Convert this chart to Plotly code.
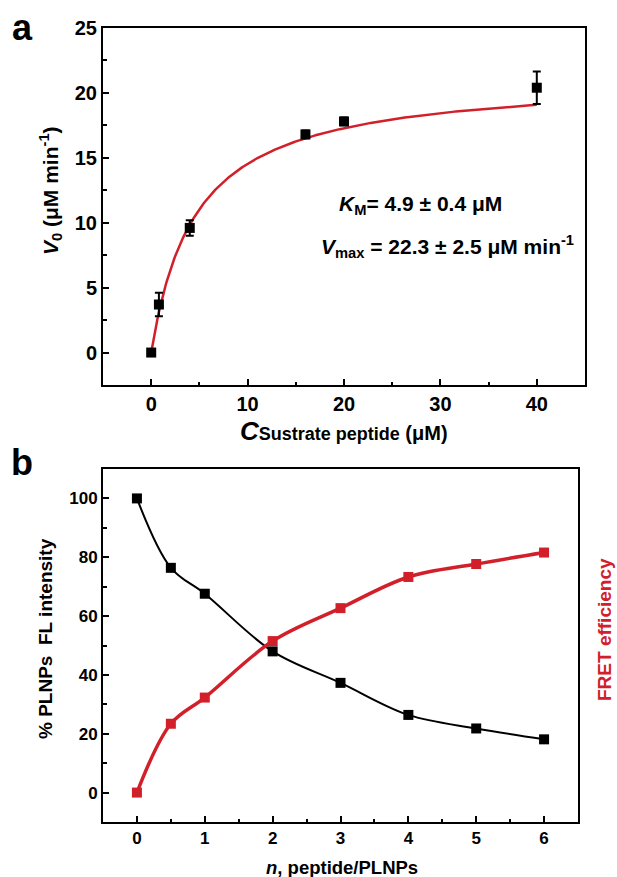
import numpy as np
import plotly.graph_objects as go

# ---------------- Panel a data ----------------
substrate_uM = [0, 0.8, 4, 16, 20, 40]
v0 = [0, 3.7, 9.6, 16.8, 17.8, 20.4]
v0_err = [0, 0.9, 0.6, 0.3, 0.3, 1.25]
fit_vmax = 21.3   # parameters of the drawn Michaelis-Menten fit
fit_km = 4.65

# ---------------- Panel b data ----------------
n_ratio = [0, 0.5, 1, 2, 3, 4, 5, 6]
fl_intensity = [100, 76.4, 67.6, 48.0, 37.3, 26.4, 21.8, 18.1]
fret_eff = [0, 23.4, 32.3, 51.5, 62.7, 73.3, 77.7, 81.6]

RED = "#d2202a"
FONT = "Liberation Sans, Arial, sans-serif"
W, H = 617, 877

def px(x):
    return x / W

def py(y):
    return 1 - y / H

fit_x = np.linspace(0, 40, 400)
fit_y = fit_vmax * fit_x / (fit_km + fit_x)

fig = go.Figure()

fig.add_trace(go.Scatter(x=fit_x, y=fit_y, mode="lines",
                         line=dict(color=RED, width=2.5), xaxis="x", yaxis="y",
                         showlegend=False, hoverinfo="skip"))
fig.add_trace(go.Scatter(x=substrate_uM, y=v0, mode="markers",
                         marker=dict(symbol="square", size=10, color="black"),
                         error_y=dict(type="data", array=v0_err, color="black",
                                      thickness=2, width=4),
                         xaxis="x", yaxis="y", showlegend=False))

fig.add_trace(go.Scatter(x=n_ratio, y=fl_intensity, mode="lines+markers",
                         line=dict(color="black", width=2, shape="spline"),
                         marker=dict(symbol="square", size=10, color="black"),
                         xaxis="x2", yaxis="y2", showlegend=False))
fig.add_trace(go.Scatter(x=n_ratio, y=fret_eff, mode="lines+markers",
                         line=dict(color=RED, width=3.5, shape="spline"),
                         marker=dict(symbol="square", size=10, color=RED),
                         xaxis="x2", yaxis="y2", showlegend=False))

axis_common = dict(showline=True, mirror=True, linecolor="black", linewidth=2,
                   ticks="inside", ticklen=6, tickwidth=2, tickcolor="black",
                   showgrid=False, zeroline=False, automargin=False)

fig.update_layout(
    width=W, height=H,
    margin=dict(l=0, r=0, t=0, b=0),
    paper_bgcolor="white", plot_bgcolor="white",
    font=dict(family=FONT, color="black"),
    xaxis=dict(domain=[px(103), px(585)], range=[-5, 45], anchor="y",
               tick0=0, dtick=10,
               minor=dict(ticks="inside", ticklen=3.5, tickwidth=2, dtick=5, tick0=0, tickcolor="black"),
               tickfont=dict(size=20, family=FONT, weight="bold"), **axis_common),
    yaxis=dict(domain=[py(385), py(28)], range=[-2.5, 25], anchor="x",
               tick0=0, dtick=5,
               minor=dict(ticks="inside", ticklen=3.5, tickwidth=2, dtick=2.5, tick0=0, tickcolor="black"),
               tickfont=dict(size=20, family=FONT, weight="bold"), **axis_common),
    xaxis2=dict(domain=[px(103), px(578)], range=[-0.5, 6.5], anchor="y2",
                tick0=0, dtick=1,
                minor=dict(ticks="inside", ticklen=3.5, tickwidth=2, dtick=0.5, tick0=0, tickcolor="black"),
                tickfont=dict(size=17, family=FONT, weight="bold"), **axis_common),
    yaxis2=dict(domain=[py(822), py(469)], range=[-10, 110], anchor="x2",
                tick0=0, dtick=20,
                minor=dict(ticks="inside", ticklen=3.5, tickwidth=2, dtick=10, tick0=0, tickcolor="black"),
                tickfont=dict(size=17, family=FONT, weight="bold"), **axis_common),
)

def ann(text, x, y, size, color="black", angle=0):
    fig.add_annotation(text=text, x=px(x), y=py(y), xref="paper", yref="paper",
                       showarrow=False, textangle=angle, xanchor="center", yanchor="middle",
                       font=dict(size=size, color=color, family=FONT))

# panel letters
ann("<b>a</b>", 22, 28, 36)
ann("<b>b</b>", 22, 462, 36)

# panel a texts
ann("<b><i>V</i><sub>0</sub> (μM min<sup>-1</sup>)</b>", 50, 191, 21, angle=-90)
ann('<b><span style="font-size:26px"><i>C</i></span><span style="font-size:18px">Sustrate peptide</span> (μM)</b>',
    344, 431, 20)
ann("<b><i>K</i><sub>M</sub>= 4.9 ± 0.4 μM</b>", 420, 205, 21)
ann("<b><i>V</i><sub>max</sub> = 22.3 ± 2.5 μM min<sup>-1</sup></b>", 447, 247, 21)

# panel b texts
ann("<b>% PLNPs  FL intensity</b>", 45, 638, 19, angle=-90)
ann("<b>FRET efficiency</b>", 604, 630, 19, color=RED, angle=-90)
ann("<b><i>n</i>, peptide/PLNPs</b>", 342, 867, 18.5)

fig.write_html("out.html", config={"displayModeBar": False},
               post_script="document.body.style.margin='0';document.body.style.overflow='hidden';")
